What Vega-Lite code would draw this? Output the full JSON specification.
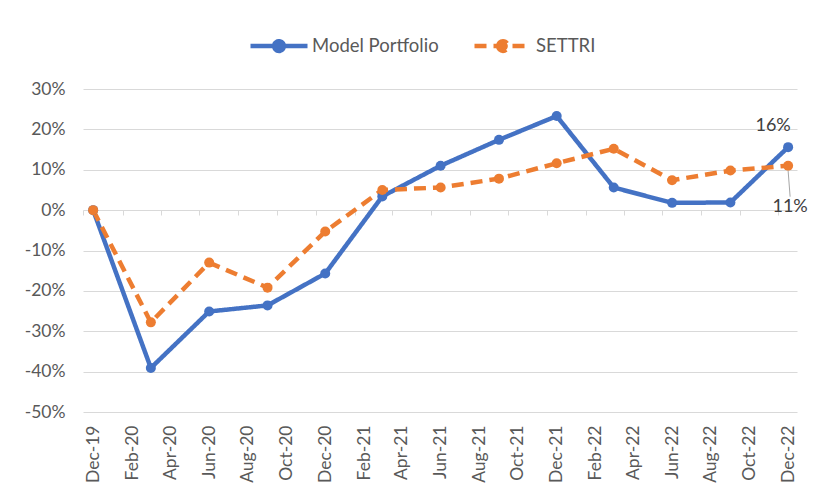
{
  "$schema": "https://vega.github.io/schema/vega-lite/v6.json",
  "width": 714,
  "height": 323,
  "autosize": "none",
  "padding": {"left": 83, "top": 89, "right": 19, "bottom": 80},
  "background": "white",
  "config": {"view": {"stroke": null}, "font": "Lato"},
  "data": {
    "values": [
      {"d": "2019-12-01", "series": "Model Portfolio", "v": 0},
      {"d": "2020-03-01", "series": "Model Portfolio", "v": -39.1},
      {"d": "2020-06-01", "series": "Model Portfolio", "v": -25.1},
      {"d": "2020-09-01", "series": "Model Portfolio", "v": -23.6},
      {"d": "2020-12-01", "series": "Model Portfolio", "v": -15.7},
      {"d": "2021-03-01", "series": "Model Portfolio", "v": 3.4},
      {"d": "2021-06-01", "series": "Model Portfolio", "v": 11.0},
      {"d": "2021-09-01", "series": "Model Portfolio", "v": 17.4},
      {"d": "2021-12-01", "series": "Model Portfolio", "v": 23.3},
      {"d": "2022-03-01", "series": "Model Portfolio", "v": 5.6},
      {"d": "2022-06-01", "series": "Model Portfolio", "v": 1.8},
      {"d": "2022-09-01", "series": "Model Portfolio", "v": 1.9},
      {"d": "2022-12-01", "series": "Model Portfolio", "v": 15.6},
      {"d": "2019-12-01", "series": "SETTRI", "v": 0},
      {"d": "2020-03-01", "series": "SETTRI", "v": -27.8},
      {"d": "2020-06-01", "series": "SETTRI", "v": -13.0},
      {"d": "2020-09-01", "series": "SETTRI", "v": -19.2},
      {"d": "2020-12-01", "series": "SETTRI", "v": -5.3},
      {"d": "2021-03-01", "series": "SETTRI", "v": 5.0},
      {"d": "2021-06-01", "series": "SETTRI", "v": 5.6},
      {"d": "2021-09-01", "series": "SETTRI", "v": 7.8},
      {"d": "2021-12-01", "series": "SETTRI", "v": 11.6},
      {"d": "2022-03-01", "series": "SETTRI", "v": 15.2},
      {"d": "2022-06-01", "series": "SETTRI", "v": 7.4},
      {"d": "2022-09-01", "series": "SETTRI", "v": 9.8},
      {"d": "2022-12-01", "series": "SETTRI", "v": 11.0}
    ]
  },
  "layer": [
    {
      "mark": {"type": "line", "strokeWidth": 4.5},
      "encoding": {
        "x": {
          "field": "d", "type": "temporal",
          "scale": {"type": "utc", "domain": [{"year": 2019, "month": 11, "date": 15, "utc": true}, {"year": 2022, "month": 12, "date": 15, "utc": true}]},
          "axis": {
            "orient": "bottom",
            "title": null,
            "domain": false,
            "ticks": false,
            "grid": false,
            "format": "%b-%y",
            "labelAngle": -90,
            "labelAlign": "right",
            "labelBaseline": "middle",
            "labelPadding": 13,
            "labelFontSize": 17.5,
            "labelColor": "#595959",
            "labelOverlap": false,
            "values": [
              {"year": 2019, "month": 12, "date": 1, "utc": true},
              {"year": 2020, "month": 2, "date": 1, "utc": true},
              {"year": 2020, "month": 4, "date": 1, "utc": true},
              {"year": 2020, "month": 6, "date": 1, "utc": true},
              {"year": 2020, "month": 8, "date": 1, "utc": true},
              {"year": 2020, "month": 10, "date": 1, "utc": true},
              {"year": 2020, "month": 12, "date": 1, "utc": true},
              {"year": 2021, "month": 2, "date": 1, "utc": true},
              {"year": 2021, "month": 4, "date": 1, "utc": true},
              {"year": 2021, "month": 6, "date": 1, "utc": true},
              {"year": 2021, "month": 8, "date": 1, "utc": true},
              {"year": 2021, "month": 10, "date": 1, "utc": true},
              {"year": 2021, "month": 12, "date": 1, "utc": true},
              {"year": 2022, "month": 2, "date": 1, "utc": true},
              {"year": 2022, "month": 4, "date": 1, "utc": true},
              {"year": 2022, "month": 6, "date": 1, "utc": true},
              {"year": 2022, "month": 8, "date": 1, "utc": true},
              {"year": 2022, "month": 10, "date": 1, "utc": true},
              {"year": 2022, "month": 12, "date": 1, "utc": true}
            ]
          }
        },
        "y": {
          "field": "v", "type": "quantitative",
          "scale": {"domain": [-50, 30], "nice": false, "zero": false},
          "axis": {
            "title": null,
            "domain": false,
            "ticks": false,
            "values": [-50, -40, -30, -20, -10, 0, 10, 20, 30],
            "labelExpr": "datum.value + '%'",
            "labelPadding": 18,
            "labelFontSize": 17.5,
            "labelColor": "#595959",
            "gridColor": "#d9d9d9",
            "gridWidth": 1
          }
        },
        "color": {
          "field": "series", "type": "nominal",
          "scale": {"domain": ["Model Portfolio", "SETTRI"], "range": ["#4472C4", "#ED7D31"]},
          "legend": {
            "title": null,
            "orient": "none",
            "legendX": 165,
            "legendY": -74,
            "direction": "horizontal",
            "columns": 2,
            "columnPadding": 26,
            "labelOffset": 2,
            "labelFontSize": 18.5,
            "labelColor": "#595959",
            "symbolSize": 3249,
            "symbolStrokeWidth": 4.5,
            "symbolType": "M-1,0H1M-0.17,0A0.17,0.17,0,1,1,0.17,0A0.17,0.17,0,1,1,-0.17,0Z",
            "encode": {"symbols": {"update": {"fill": {"scale": "color", "field": "value"}}}}
          }
        },
        "strokeDash": {
          "field": "series", "type": "nominal",
          "scale": {"domain": ["Model Portfolio", "SETTRI"], "range": [[1, 0], [12, 7]]}
        }
      }
    },
    {
      "mark": {"type": "circle", "size": 100, "opacity": 1},
      "encoding": {
        "x": {
          "field": "d", "type": "temporal",
          "axis": {
            "orient": "bottom",
            "offset": -202,
            "title": null,
            "domain": false,
            "labels": false,
            "grid": false,
            "ticks": true,
            "tickSize": 5,
            "tickColor": "#d9d9d9",
            "tickWidth": 1,
            "tickOffset": -9.7,
            "values": [
              {"year": 2019, "month": 12, "date": 1, "utc": true},
              {"year": 2020, "month": 2, "date": 1, "utc": true},
              {"year": 2020, "month": 4, "date": 1, "utc": true},
              {"year": 2020, "month": 6, "date": 1, "utc": true},
              {"year": 2020, "month": 8, "date": 1, "utc": true},
              {"year": 2020, "month": 10, "date": 1, "utc": true},
              {"year": 2020, "month": 12, "date": 1, "utc": true},
              {"year": 2021, "month": 2, "date": 1, "utc": true},
              {"year": 2021, "month": 4, "date": 1, "utc": true},
              {"year": 2021, "month": 6, "date": 1, "utc": true},
              {"year": 2021, "month": 8, "date": 1, "utc": true},
              {"year": 2021, "month": 10, "date": 1, "utc": true},
              {"year": 2021, "month": 12, "date": 1, "utc": true},
              {"year": 2022, "month": 2, "date": 1, "utc": true},
              {"year": 2022, "month": 4, "date": 1, "utc": true},
              {"year": 2022, "month": 6, "date": 1, "utc": true},
              {"year": 2022, "month": 8, "date": 1, "utc": true},
              {"year": 2022, "month": 10, "date": 1, "utc": true},
              {"year": 2022, "month": 12, "date": 1, "utc": true}
            ]
          }
        },
        "y": {"field": "v", "type": "quantitative"},
        "color": {"field": "series", "type": "nominal"}
      }
    },
    {
      "transform": [{"filter": "datum.series === 'SETTRI' && utcyear(datum.d) === 2022 && utcmonth(datum.d) === 11"}],
      "mark": {"type": "rule", "color": "#a6a6a6", "strokeWidth": 1, "yOffset": 5, "y2Offset": 31, "x2Offset": 2},
      "encoding": {
        "x": {"field": "d", "type": "temporal", "axis": null},
        "x2": {"field": "d"},
        "y": {"field": "v", "type": "quantitative"},
        "y2": {"field": "v"}
      }
    },
    {
      "transform": [{"filter": "datum.series === 'Model Portfolio' && utcyear(datum.d) === 2022 && utcmonth(datum.d) === 11"}],
      "mark": {"type": "text", "fontSize": 18, "color": "#404040", "dx": -15, "dy": -21, "baseline": "middle", "align": "center", "text": {"expr": "format(datum.v / 100, '.0%')"}},
      "encoding": {
        "x": {"field": "d", "type": "temporal", "axis": null},
        "y": {"field": "v", "type": "quantitative"}
      }
    },
    {
      "transform": [{"filter": "datum.series === 'SETTRI' && utcyear(datum.d) === 2022 && utcmonth(datum.d) === 11"}],
      "mark": {"type": "text", "fontSize": 18, "color": "#404040", "dx": 2, "dy": 41, "baseline": "middle", "align": "center", "text": {"expr": "format(datum.v / 100, '.0%')"}},
      "encoding": {
        "x": {"field": "d", "type": "temporal", "axis": null},
        "y": {"field": "v", "type": "quantitative"}
      }
    }
  ],
  "resolve": {"axis": {"x": "independent"}}
}
